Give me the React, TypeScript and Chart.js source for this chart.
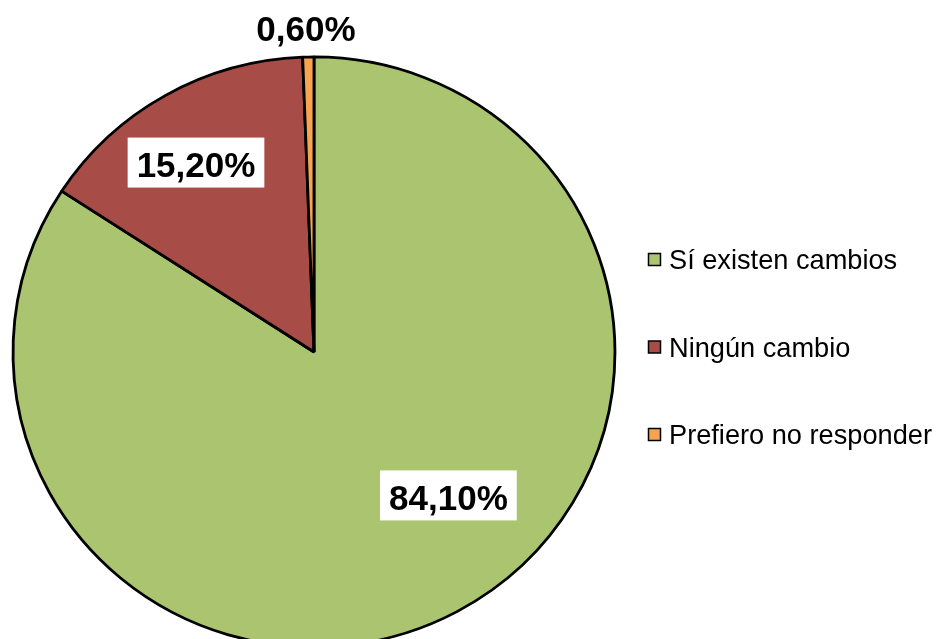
import React, { useEffect, useRef } from "react";
import { Chart, registerables } from "chart.js";

Chart.register(...registerables);

const categories = ["Sí existen cambios", "Ningún cambio", "Prefiero no responder"];
const values = [84.1, 15.2, 0.6];
const colors = ["#abc46f", "#a84c47", "#f7a350"];
// label placement relative to pie centre, in fractions of the radius
const labelOffsetX = [0.451, -0.396, -0.027];
const labelOffsetY = [0.488, -0.629, -1.084];

const fmt = (v: number) => v.toFixed(2).replace(".", ",") + "%";

// slight horizontal stretch of the pie, as in the reference
const stretchX = 1.01;
const stretchY = 0.99;

const stretchPlugin = {
  id: "stretch",
  beforeDatasetsDraw(chart: any) {
    const ctx = chart.ctx;
    const meta = chart.getDatasetMeta(0);
    const a = meta.data[0];
    ctx.save();
    ctx.translate(a.x, a.y);
    ctx.scale(stretchX, stretchY);
    ctx.translate(-a.x, -a.y);
  },
  afterDatasetsDraw(chart: any) {
    chart.ctx.restore();
  },
};

const labelsPlugin = {
  id: "pieLabels",
  afterDatasetsDraw(chart: any) {
    const ctx = chart.ctx;
    const meta = chart.getDatasetMeta(0);
    ctx.save();
    const fs = 35;
    ctx.font = `bold ${fs}px "Liberation Sans", Arial, sans-serif`;
    meta.data.forEach((arc: any, i: number) => {
      const r = arc.outerRadius;
      const cx = arc.x + labelOffsetX[i] * r;
      const cy = arc.y + labelOffsetY[i] * r;
      const text = fmt(values[i]);
      const w = ctx.measureText(text).width;
      ctx.fillStyle = "#ffffff";
      ctx.fillRect(cx - w / 2 - 9, cy - 27, w + 18, 50);
      ctx.fillStyle = "#000000";
      ctx.textAlign = "center";
      ctx.textBaseline = "alphabetic";
      ctx.fillText(text, cx, cy + 0.358 * fs);
    });
    ctx.restore();
  },
};

const legendPlugin = {
  id: "sideLegend",
  afterDraw(chart: any) {
    const ctx = chart.ctx;
    ctx.save();
    const fs = 27.2;
    ctx.font = `${fs}px "Liberation Sans", Arial, sans-serif`;
    const boxX = 648.5;
    const textX = 669;
    const startY = 259.5;
    const step = 87.5;
    categories.forEach((c, i) => {
      const y = startY + i * step;
      ctx.fillStyle = colors[i];
      ctx.fillRect(boxX, y - 6, 12, 12);
      ctx.strokeStyle = "#000000";
      ctx.lineWidth = 1.5;
      ctx.strokeRect(boxX, y - 6, 12, 12);
      ctx.fillStyle = "#000000";
      ctx.textAlign = "left";
      ctx.textBaseline = "alphabetic";
      ctx.fillText(c, textX, y + 0.358 * fs);
    });
    ctx.restore();
  },
};

export default function App() {
  const ref = useRef<HTMLCanvasElement | null>(null);
  useEffect(() => {
    if (!ref.current) return;
    const chart = new Chart(ref.current, {
      type: "pie",
      data: {
        labels: categories,
        datasets: [
          {
            data: values,
            backgroundColor: colors,
            borderColor: "#000000",
            borderWidth: 2.8,
            clip: false,
          } as any,
        ],
      },
      options: {
        animation: false,
        responsive: true,
        maintainAspectRatio: false,
        radius: 298,
        rotation: 0,
        layout: { padding: { left: 16, right: 325, top: 54, bottom: 54 } },
        plugins: {
          legend: { display: false },
          tooltip: { enabled: false },
        },
      } as any,
      plugins: [stretchPlugin, labelsPlugin, legendPlugin],
    });
    return () => chart.destroy();
  }, []);
  return (
    <div
      style={{
        position: "absolute",
        left: 0,
        top: 0,
        width: 937,
        height: 639,
        overflow: "hidden",
        background: "#ffffff",
      }}
    >
      <div style={{ position: "relative", width: 937, height: 704 }}>
        <canvas ref={ref} />
      </div>
    </div>
  );
}
